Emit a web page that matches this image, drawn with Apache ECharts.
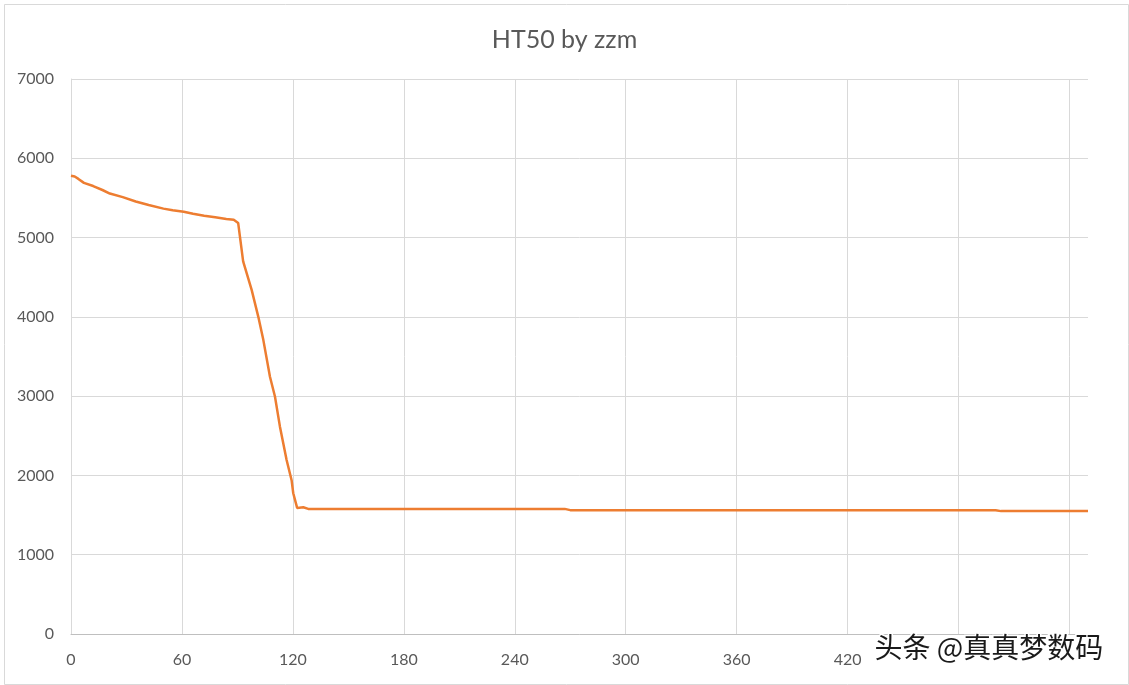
<!DOCTYPE html>
<html>
<head>
<meta charset="utf-8">
<script src="https://cdn.jsdelivr.net/npm/echarts@6/dist/echarts.min.js"></script>
<style>
html,body{margin:0;padding:0;background:#fff;}
#c{width:1129px;height:685px;}
</style>
</head>
<body>
<div id="c"></div>
<script>
const titleText = 'HT50 by zzm';
const watermarkText = '头条 @真真梦数码';
const timeSec = [0, 2, 4, 7, 12, 17, 21, 28, 35, 42, 50, 55, 61, 66, 72, 78, 84, 88, 90.4, 93.1, 97.7, 101.3, 104, 107.6, 110.3, 113, 116.6, 119.3, 120.2, 122.3, 125.6, 128.3, 267, 270, 500, 503, 550];
const speed = [5780, 5770, 5740, 5690, 5650, 5600, 5555, 5510, 5455, 5410, 5365, 5345, 5325, 5300, 5275, 5255, 5235, 5225, 5185, 4700, 4340, 4000, 3710, 3245, 2995, 2615, 2195, 1940, 1775, 1590, 1598, 1578, 1578, 1562, 1562, 1550, 1550];
const xTicks = [0, 60, 120, 180, 240, 300, 360, 420];
const yMax = 7000, yStep = 1000, xMax = 550, xStep = 60;

const chart = echarts.init(document.getElementById('c'), null, {renderer: 'canvas'});
const font = 'Lato, "Liberation Sans", sans-serif';
chart.setOption({
  animation: false,
  backgroundColor: '#fff',
  title: {
    text: titleText, left: 'center', top: 22,
    textStyle: {fontFamily: font, fontSize: 25, fontWeight: 'normal', color: '#595959'}
  },
  grid: {left: 71, right: 41, top: 79, bottom: 51},
  xAxis: {
    type: 'value', min: 0, max: xMax, interval: xStep,
    axisLine: {show: true, lineStyle: {color: '#BFBFBF', width: 1}},
    axisTick: {show: false},
    splitLine: {show: true, showMaxLine: false, lineStyle: {color: '#D9D9D9', width: 1}},
    axisLabel: {
      color: '#595959', fontFamily: font, fontSize: 16, margin: 18,
      showMaxLabel: false,
      formatter: v => xTicks.indexOf(v) >= 0 ? String(v) : ''
    }
  },
  yAxis: {
    type: 'value', min: 0, max: yMax, interval: yStep,
    axisLine: {show: true, lineStyle: {color: '#D9D9D9', width: 1}},
    axisTick: {show: false},
    splitLine: {show: true, lineStyle: {color: '#D9D9D9', width: 1}},
    axisLabel: {color: '#595959', fontFamily: font, fontSize: 16, margin: 17,
      formatter: v => String(v)}
  },
  series: [{
    type: 'line',
    data: timeSec.map((t, i) => [t, speed[i]]),
    showSymbol: false,
    smooth: false,
    lineStyle: {color: '#ED7D31', width: 2.5},
    itemStyle: {color: '#ED7D31'}
  }],
  graphic: [
    {type: 'rect', left: 2, top: 2, shape: {width: 1124, height: 680},
     style: {fill: 'none', stroke: '#D9D9D9', lineWidth: 1}, silent: true},
    {type: 'text', left: 873, top: 632,
     style: {text: watermarkText, fill: '#1a1a1a', font: '28px "Noto Sans CJK SC"',
             stroke: '#ffffff', lineWidth: 3}, z: 100}
  ]
});
</script>
</body>
</html>
